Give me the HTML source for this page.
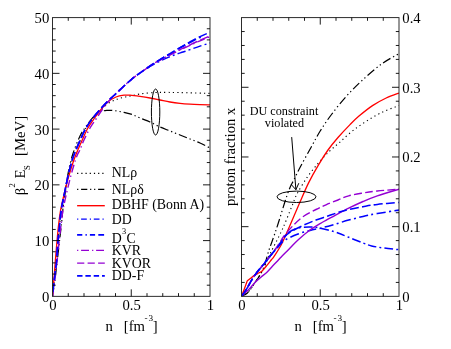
<!DOCTYPE html><html><head><meta charset="utf-8"><style>html,body{margin:0;padding:0;background:#fff;}body{width:451px;height:349px;overflow:hidden;position:relative;font-family:"Liberation Serif",serif;}</style></head><body><svg width="451" height="349" viewBox="0 0 451 349" style="position:absolute;left:0;top:0;will-change:transform" font-family="Liberation Serif, serif" font-size="14.7" fill="#000"><rect width="451" height="349" fill="#fff"/><clipPath id="c1"><rect x="52.50" y="17.60" width="157.50" height="278.75"/></clipPath><clipPath id="c2"><rect x="241.50" y="17.60" width="157.50" height="278.75"/></clipPath><g clip-path="url(#c1)"><path d="M52.50,296.35 C52.60,295.29 52.85,292.39 53.10,290.00 C53.35,287.61 53.63,285.00 54.00,282.00 C54.37,279.00 54.88,275.40 55.30,272.00 C55.72,268.60 56.05,266.77 56.50,261.60 C56.95,256.43 57.45,247.43 58.00,241.00 C58.55,234.57 59.27,228.17 59.80,223.00 C60.33,217.83 60.65,213.83 61.20,210.00 C61.75,206.17 62.38,203.67 63.10,200.00 C63.82,196.33 64.57,192.50 65.50,188.00 C66.43,183.50 67.42,178.17 68.70,173.00 C69.98,167.83 71.35,162.33 73.20,157.00 C75.05,151.67 77.67,145.83 79.80,141.00 C81.93,136.17 83.80,131.83 86.00,128.00 C88.20,124.17 90.67,121.00 93.00,118.00 C95.33,115.00 97.50,112.40 100.00,110.00 C102.50,107.60 105.33,105.33 108.00,103.60 C110.67,101.87 113.33,100.67 116.00,99.60 C118.67,98.53 121.33,97.87 124.00,97.20 C126.67,96.53 129.33,96.13 132.00,95.60 C134.67,95.07 137.00,94.47 140.00,94.00 C143.00,93.53 146.67,93.07 150.00,92.80 C153.33,92.53 155.00,92.43 160.00,92.40 C165.00,92.37 171.67,92.43 180.00,92.60 C188.33,92.77 205.00,93.27 210.00,93.40" fill="none" stroke="#000000" stroke-width="1.10" stroke-dasharray="1.20,3.20"/><path d="M52.50,296.35 C52.65,295.29 53.03,292.39 53.40,290.00 C53.77,287.61 54.07,286.73 54.70,282.00 C55.33,277.27 56.40,268.43 57.20,261.60 C58.00,254.77 58.77,247.43 59.50,241.00 C60.23,234.57 61.05,228.17 61.60,223.00 C62.15,217.83 62.37,213.83 62.80,210.00 C63.23,206.17 63.68,203.67 64.20,200.00 C64.72,196.33 65.18,192.83 65.90,188.00 C66.62,183.17 67.32,176.75 68.50,171.00 C69.68,165.25 71.08,159.33 73.00,153.50 C74.92,147.67 77.83,140.52 80.00,136.00 C82.17,131.48 83.83,129.50 86.00,126.40 C88.17,123.30 90.67,119.80 93.00,117.40 C95.33,115.00 97.67,113.17 100.00,112.00 C102.33,110.83 104.67,110.63 107.00,110.40 C109.33,110.17 111.17,110.27 114.00,110.60 C116.83,110.93 121.00,111.77 124.00,112.40 C127.00,113.03 129.33,113.47 132.00,114.40 C134.67,115.33 137.00,116.73 140.00,118.00 C143.00,119.27 146.67,120.50 150.00,122.00 C153.33,123.50 156.67,125.50 160.00,127.00 C163.33,128.50 166.67,129.67 170.00,131.00 C173.33,132.33 176.67,133.67 180.00,135.00 C183.33,136.33 186.67,137.67 190.00,139.00 C193.33,140.33 196.67,141.50 200.00,143.00 C203.33,144.50 208.33,147.17 210.00,148.00" fill="none" stroke="#000000" stroke-width="1.20" stroke-dasharray="8.60,2.90,1.30,2.90,1.30,2.90"/><path d="M52.50,296.35 C52.58,295.29 52.80,292.39 53.00,290.00 C53.20,287.61 53.32,286.73 53.70,282.00 C54.08,277.27 54.75,268.43 55.30,261.60 C55.85,254.77 56.42,247.43 57.00,241.00 C57.58,234.57 58.20,228.17 58.80,223.00 C59.40,217.83 59.93,213.83 60.60,210.00 C61.27,206.17 61.97,203.67 62.80,200.00 C63.63,196.33 64.45,192.50 65.60,188.00 C66.75,183.50 68.17,178.08 69.70,173.00 C71.23,167.92 72.82,162.75 74.80,157.50 C76.78,152.25 79.47,146.33 81.60,141.50 C83.73,136.67 85.50,132.33 87.60,128.50 C89.70,124.67 92.03,121.58 94.20,118.50 C96.37,115.42 98.27,112.78 100.60,110.00 C102.93,107.22 105.63,103.97 108.20,101.80 C110.77,99.63 113.37,98.10 116.00,97.00 C118.63,95.90 121.67,95.50 124.00,95.20 C126.33,94.90 127.33,95.00 130.00,95.20 C132.67,95.40 136.67,95.93 140.00,96.40 C143.33,96.87 146.67,97.40 150.00,98.00 C153.33,98.60 156.67,99.33 160.00,100.00 C163.33,100.67 166.67,101.43 170.00,102.00 C173.33,102.57 176.67,103.03 180.00,103.40 C183.33,103.77 186.67,104.00 190.00,104.20 C193.33,104.40 196.67,104.50 200.00,104.60 C203.33,104.70 208.33,104.77 210.00,104.80" fill="none" stroke="#ff0000" stroke-width="1.30"/><path d="M147.20,68.00 C148.38,67.33 151.92,65.27 154.30,64.00 C156.68,62.73 159.10,61.53 161.50,60.40 C163.90,59.27 166.32,58.20 168.70,57.20 C171.08,56.20 173.42,55.27 175.80,54.40 C178.18,53.53 180.63,52.80 183.00,52.00 C185.37,51.20 187.17,50.58 190.00,49.60 C192.83,48.62 196.67,47.20 200.00,46.10 C203.33,45.00 208.33,43.52 210.00,43.00" fill="none" stroke="#0000ff" stroke-width="1.45" stroke-dasharray="8.50,3.20,1.90,3.20"/><path d="M52.50,296.35 C52.60,295.29 52.85,292.39 53.10,290.00 C53.35,287.61 53.63,285.00 54.00,282.00 C54.37,279.00 54.88,275.40 55.30,272.00 C55.72,268.60 56.05,266.77 56.50,261.60 C56.95,256.43 57.45,247.43 58.00,241.00 C58.55,234.57 59.27,228.17 59.80,223.00 C60.33,217.83 60.65,213.83 61.20,210.00 C61.75,206.17 62.38,203.67 63.10,200.00 C63.82,196.33 64.57,192.50 65.50,188.00 C66.43,183.50 67.42,178.17 68.70,173.00 C69.98,167.83 71.35,162.33 73.20,157.00 C75.05,151.67 77.67,145.83 79.80,141.00 C81.93,136.17 83.80,131.83 86.00,128.00 C88.20,124.17 90.67,121.07 93.00,118.00 C95.33,114.93 97.50,112.43 100.00,109.60 C102.50,106.77 105.33,103.67 108.00,101.00 C110.67,98.33 113.33,96.10 116.00,93.60 C118.67,91.10 121.50,88.30 124.00,86.00 C126.50,83.70 128.80,81.63 131.00,79.80 C133.20,77.97 135.70,76.13 137.20,75.00 C138.70,73.87 138.33,74.17 140.00,73.00 C141.67,71.83 144.82,69.63 147.20,68.00 C149.58,66.37 151.92,64.75 154.30,63.20 C156.68,61.65 159.10,60.17 161.50,58.70 C163.90,57.23 166.32,55.82 168.70,54.40 C171.08,52.98 173.42,51.57 175.80,50.20 C178.18,48.83 180.63,47.48 183.00,46.20 C185.37,44.92 187.17,43.95 190.00,42.50 C192.83,41.05 196.67,38.93 200.00,37.50 C203.33,36.07 208.33,34.50 210.00,33.90" fill="none" stroke="#0000ff" stroke-width="1.55" stroke-dashoffset="31.8" stroke-dasharray="8.80,3.30,8.80,3.30,2.00,10.10"/><path d="M52.50,296.35 C52.65,295.29 53.07,292.39 53.40,290.00 C53.73,287.61 53.90,286.73 54.50,282.00 C55.10,277.27 56.22,268.43 57.00,261.60 C57.78,254.77 58.48,247.43 59.20,241.00 C59.92,234.57 60.67,228.17 61.30,223.00 C61.93,217.83 62.38,213.83 63.00,210.00 C63.62,206.17 64.20,203.67 65.00,200.00 C65.80,196.33 66.70,192.50 67.80,188.00 C68.90,183.50 70.15,178.17 71.60,173.00 C73.05,167.83 75.10,160.87 76.50,157.00 C77.90,153.13 78.75,152.63 80.00,149.80 C81.25,146.97 82.33,143.63 84.00,140.00 C85.67,136.37 88.00,131.50 90.00,128.00 C92.00,124.50 94.00,122.00 96.00,119.00 C98.00,116.00 100.00,112.83 102.00,110.00 C104.00,107.17 105.67,104.73 108.00,102.00 C110.33,99.27 113.33,96.27 116.00,93.60 C118.67,90.93 121.50,88.30 124.00,86.00 C126.50,83.70 128.80,81.63 131.00,79.80 C133.20,77.97 135.70,76.13 137.20,75.00 C138.70,73.87 138.33,74.17 140.00,73.00 C141.67,71.83 144.82,69.63 147.20,68.00 C149.58,66.37 151.92,64.63 154.30,63.20 C156.68,61.77 159.10,60.67 161.50,59.40 C163.90,58.13 166.32,56.83 168.70,55.60 C171.08,54.37 173.42,53.17 175.80,52.00 C178.18,50.83 180.63,49.72 183.00,48.60 C185.37,47.48 187.17,46.60 190.00,45.30 C192.83,44.00 196.67,42.25 200.00,40.80 C203.33,39.35 208.33,37.30 210.00,36.60" fill="none" stroke="#9400d3" stroke-width="1.40" stroke-dasharray="8.00,3.20,1.30,3.20"/><path d="M52.50,296.35 C52.60,295.29 52.85,292.39 53.10,290.00 C53.35,287.61 53.63,285.00 54.00,282.00 C54.37,279.00 54.88,275.40 55.30,272.00 C55.72,268.60 56.05,266.77 56.50,261.60 C56.95,256.43 57.45,247.43 58.00,241.00 C58.55,234.57 59.27,228.17 59.80,223.00 C60.33,217.83 60.65,213.83 61.20,210.00 C61.75,206.17 62.38,203.67 63.10,200.00 C63.82,196.33 64.57,192.50 65.50,188.00 C66.43,183.50 67.42,178.17 68.70,173.00 C69.98,167.83 71.35,162.33 73.20,157.00 C75.05,151.67 77.67,145.83 79.80,141.00 C81.93,136.17 83.80,131.83 86.00,128.00 C88.20,124.17 90.67,121.07 93.00,118.00 C95.33,114.93 97.50,112.43 100.00,109.60 C102.50,106.77 105.33,103.67 108.00,101.00 C110.67,98.33 113.33,96.10 116.00,93.60 C118.67,91.10 121.50,88.30 124.00,86.00 C126.50,83.70 128.80,81.63 131.00,79.80 C133.20,77.97 135.70,76.13 137.20,75.00 C138.70,73.87 138.33,74.17 140.00,73.00 C141.67,71.83 144.82,69.63 147.20,68.00 C149.58,66.37 151.92,64.67 154.30,63.20 C156.68,61.73 159.10,60.50 161.50,59.20 C163.90,57.90 166.32,56.65 168.70,55.40 C171.08,54.15 173.42,52.90 175.80,51.70 C178.18,50.50 180.63,49.35 183.00,48.20 C185.37,47.05 187.17,46.12 190.00,44.80 C192.83,43.48 196.67,41.77 200.00,40.30 C203.33,38.83 208.33,36.72 210.00,36.00" fill="none" stroke="#9400d3" stroke-width="1.40" stroke-dashoffset="7.6" stroke-dasharray="8.80,3.30"/><path d="M52.50,296.35 C52.60,295.29 52.85,292.39 53.10,290.00 C53.35,287.61 53.63,285.00 54.00,282.00 C54.37,279.00 54.88,275.40 55.30,272.00 C55.72,268.60 56.05,266.77 56.50,261.60 C56.95,256.43 57.45,247.43 58.00,241.00 C58.55,234.57 59.27,228.17 59.80,223.00 C60.33,217.83 60.65,213.83 61.20,210.00 C61.75,206.17 62.38,203.67 63.10,200.00 C63.82,196.33 64.57,192.50 65.50,188.00 C66.43,183.50 67.42,178.17 68.70,173.00 C69.98,167.83 71.35,162.33 73.20,157.00 C75.05,151.67 77.67,145.83 79.80,141.00 C81.93,136.17 83.80,131.83 86.00,128.00 C88.20,124.17 90.67,121.07 93.00,118.00 C95.33,114.93 97.50,112.43 100.00,109.60 C102.50,106.77 105.33,103.67 108.00,101.00 C110.67,98.33 113.33,96.10 116.00,93.60 C118.67,91.10 121.50,88.30 124.00,86.00 C126.50,83.70 128.80,81.63 131.00,79.80 C133.20,77.97 135.70,76.13 137.20,75.00 C138.70,73.87 138.33,74.17 140.00,73.00 C141.67,71.83 144.82,69.63 147.20,68.00 C149.58,66.37 151.92,64.75 154.30,63.20 C156.68,61.65 159.10,60.17 161.50,58.70 C163.90,57.23 166.32,55.83 168.70,54.40 C171.08,52.97 173.42,51.50 175.80,50.10 C178.18,48.70 180.63,47.35 183.00,46.00 C185.37,44.65 187.17,43.57 190.00,42.00 C192.83,40.43 196.67,38.22 200.00,36.60 C203.33,34.98 208.33,33.02 210.00,32.30" fill="none" stroke="#0000ff" stroke-width="1.55" stroke-dashoffset="7.6" stroke-dasharray="8.80,3.30"/></g><g clip-path="url(#c2)"><path d="M241.50,296.20 C242.45,295.63 245.48,294.25 247.20,292.80 C248.92,291.35 250.47,289.25 251.80,287.50 C253.13,285.75 254.07,284.02 255.20,282.30 C256.33,280.58 257.45,279.00 258.60,277.20 C259.75,275.40 260.95,273.60 262.10,271.50 C263.25,269.40 264.35,267.18 265.50,264.60 C266.65,262.02 267.75,258.77 269.00,256.00 C270.25,253.23 270.75,252.50 273.00,248.00 C275.25,243.50 279.33,236.00 282.50,229.00 C285.67,222.00 289.58,211.83 292.00,206.00 C294.42,200.17 294.45,198.82 297.00,194.00 C299.55,189.18 303.72,182.28 307.30,177.10 C310.88,171.92 314.82,167.20 318.50,162.90 C322.18,158.60 325.87,154.73 329.40,151.30 C332.93,147.87 335.97,145.60 339.70,142.30 C343.43,139.00 347.48,134.93 351.80,131.50 C356.12,128.07 360.63,124.87 365.60,121.70 C370.57,118.53 376.03,115.18 381.60,112.50 C387.17,109.82 396.10,106.75 399.00,105.60" fill="none" stroke="#000000" stroke-width="1.10" stroke-dasharray="1.20,3.20"/><path d="M241.50,296.20 C242.45,295.70 245.48,294.65 247.20,293.20 C248.92,291.75 250.47,289.32 251.80,287.50 C253.13,285.68 254.07,284.02 255.20,282.30 C256.33,280.58 257.45,279.08 258.60,277.20 C259.75,275.32 261.05,273.20 262.10,271.00 C263.15,268.80 263.77,267.45 264.90,264.00 C266.03,260.55 267.65,254.22 268.90,250.30 C270.15,246.38 270.88,244.88 272.40,240.50 C273.92,236.12 275.82,230.75 278.00,224.00 C280.18,217.25 283.50,206.10 285.50,200.00 C287.50,193.90 288.62,190.73 290.00,187.40 C291.38,184.07 292.00,183.57 293.80,180.00 C295.60,176.43 297.93,171.42 300.80,166.00 C303.67,160.58 307.77,153.33 311.00,147.50 C314.23,141.67 316.78,136.50 320.20,131.00 C323.62,125.50 327.12,120.32 331.50,114.50 C335.88,108.68 341.33,101.83 346.50,96.10 C351.67,90.37 356.65,85.45 362.50,80.10 C368.35,74.75 375.52,68.42 381.60,64.00 C387.68,59.58 396.10,55.33 399.00,53.60" fill="none" stroke="#000000" stroke-width="1.20" stroke-dasharray="8.60,2.90,1.30,2.90,1.30,2.90"/><path d="M241.50,296.20 C241.98,294.95 243.45,291.23 244.40,288.70 C245.35,286.17 246.73,282.28 247.20,281.00 C247.83,280.48 249.67,278.92 251.00,277.90 C252.33,276.88 253.87,275.75 255.20,274.90 C256.53,274.05 257.85,273.47 259.00,272.80 C260.15,272.13 260.82,272.08 262.10,270.90 C263.38,269.72 265.18,267.52 266.70,265.70 C268.22,263.88 269.97,261.57 271.20,260.00 C272.43,258.43 272.47,258.77 274.10,256.30 C275.73,253.83 278.68,249.58 281.00,245.20 C283.32,240.82 284.83,237.20 288.00,230.00 C291.17,222.80 296.55,209.90 300.00,202.00 C303.45,194.10 305.62,188.80 308.70,182.60 C311.78,176.40 315.28,170.23 318.50,164.80 C321.72,159.37 324.75,154.55 328.00,150.00 C331.25,145.45 334.33,141.73 338.00,137.50 C341.67,133.27 346.55,128.13 350.00,124.60 C353.45,121.07 354.95,119.47 358.70,116.30 C362.45,113.13 367.92,108.65 372.50,105.60 C377.08,102.55 381.78,100.10 386.20,98.00 C390.62,95.90 396.87,93.83 399.00,93.00" fill="none" stroke="#ff0000" stroke-width="1.30"/><path d="M241.50,296.20 C242.02,295.50 243.62,293.43 244.60,292.00 C245.58,290.57 246.13,289.73 247.40,287.60 C248.67,285.47 250.60,281.77 252.20,279.20 C253.80,276.63 255.37,274.35 257.00,272.20 C258.63,270.05 260.33,268.33 262.00,266.30 C263.67,264.27 265.20,262.25 267.00,260.00 C268.80,257.75 270.75,255.47 272.80,252.80 C274.85,250.13 276.77,247.30 279.30,244.00 C281.83,240.70 284.88,235.67 288.00,233.00 C291.12,230.33 294.33,229.00 298.00,228.00 C301.67,227.00 306.67,227.05 310.00,227.00 C313.33,226.95 315.00,227.20 318.00,227.70 C321.00,228.20 324.67,229.12 328.00,230.00 C331.33,230.88 334.55,231.78 338.00,233.00 C341.45,234.22 344.53,235.63 348.70,237.30 C352.87,238.97 359.18,241.57 363.00,243.00 C366.82,244.43 368.27,245.08 371.60,245.90 C374.93,246.72 378.43,247.27 383.00,247.90 C387.57,248.53 396.33,249.40 399.00,249.70" fill="none" stroke="#0000ff" stroke-width="1.50" stroke-dashoffset="5" stroke-dasharray="8.50,3.20,1.90,3.20"/><path d="M241.50,296.20 C242.02,295.50 243.62,293.43 244.60,292.00 C245.58,290.57 246.13,289.73 247.40,287.60 C248.67,285.47 250.60,281.77 252.20,279.20 C253.80,276.63 255.37,274.35 257.00,272.20 C258.63,270.05 260.33,268.33 262.00,266.30 C263.67,264.27 265.20,262.25 267.00,260.00 C268.80,257.75 270.75,255.27 272.80,252.80 C274.85,250.33 277.10,247.42 279.30,245.20 C281.50,242.98 282.88,241.37 286.00,239.50 C289.12,237.63 294.00,235.50 298.00,234.00 C302.00,232.50 306.00,231.53 310.00,230.50 C314.00,229.47 317.95,228.82 322.00,227.80 C326.05,226.78 329.85,225.68 334.30,224.40 C338.75,223.12 343.92,221.43 348.70,220.10 C353.48,218.77 358.23,217.50 363.00,216.40 C367.77,215.30 371.30,214.55 377.30,213.50 C383.30,212.45 395.38,210.67 399.00,210.10" fill="none" stroke="#0000ff" stroke-width="1.55" stroke-dashoffset="12" stroke-dasharray="9.10,3.40,2.00,3.40"/><path d="M241.50,296.20 C242.17,295.58 244.17,293.75 245.50,292.50 C246.83,291.25 247.88,290.42 249.50,288.70 C251.12,286.98 253.30,284.12 255.20,282.20 C257.10,280.28 258.98,278.83 260.90,277.20 C262.82,275.57 264.78,274.22 266.70,272.40 C268.62,270.58 270.52,268.30 272.40,266.30 C274.28,264.30 276.57,261.92 278.00,260.40 C279.43,258.88 279.07,259.17 281.00,257.20 C282.93,255.23 286.77,251.47 289.60,248.60 C292.43,245.73 294.60,243.10 298.00,240.00 C301.40,236.90 306.00,232.92 310.00,230.00 C314.00,227.08 317.95,224.87 322.00,222.50 C326.05,220.13 329.85,218.18 334.30,215.80 C338.75,213.42 343.92,210.58 348.70,208.20 C353.48,205.82 358.23,203.57 363.00,201.50 C367.77,199.43 371.30,197.85 377.30,195.80 C383.30,193.75 395.38,190.30 399.00,189.20" fill="none" stroke="#9400d3" stroke-width="1.40"/><path d="M241.50,296.20 C242.02,295.50 243.62,293.43 244.60,292.00 C245.58,290.57 246.13,289.73 247.40,287.60 C248.67,285.47 250.60,281.77 252.20,279.20 C253.80,276.63 255.37,274.35 257.00,272.20 C258.63,270.05 260.33,268.33 262.00,266.30 C263.67,264.27 265.20,262.25 267.00,260.00 C268.80,257.75 270.75,255.55 272.80,252.80 C274.85,250.05 277.43,246.30 279.30,243.50 C281.17,240.70 281.55,239.15 284.00,236.00 C286.45,232.85 290.67,227.93 294.00,224.60 C297.33,221.27 300.33,218.52 304.00,216.00 C307.67,213.48 312.33,211.37 316.00,209.50 C319.67,207.63 322.33,206.38 326.00,204.80 C329.67,203.22 334.22,201.50 338.00,200.00 C341.78,198.50 344.53,196.97 348.70,195.80 C352.87,194.63 358.23,193.80 363.00,193.00 C367.77,192.20 371.30,191.63 377.30,191.00 C383.30,190.37 395.38,189.50 399.00,189.20" fill="none" stroke="#9400d3" stroke-width="1.40" stroke-dasharray="8.00,3.20"/><path d="M241.50,296.20 C242.02,295.50 243.62,293.43 244.60,292.00 C245.58,290.57 246.13,289.73 247.40,287.60 C248.67,285.47 250.60,281.77 252.20,279.20 C253.80,276.63 255.37,274.35 257.00,272.20 C258.63,270.05 260.33,268.33 262.00,266.30 C263.67,264.27 265.20,262.25 267.00,260.00 C268.80,257.75 270.75,255.27 272.80,252.80 C274.85,250.33 277.27,247.92 279.30,245.20 C281.33,242.48 282.88,238.87 285.00,236.50 C287.12,234.13 288.83,232.92 292.00,231.00 C295.17,229.08 300.00,226.83 304.00,225.00 C308.00,223.17 312.00,221.50 316.00,220.00 C320.00,218.50 324.33,217.25 328.00,216.00 C331.67,214.75 334.55,213.58 338.00,212.50 C341.45,211.42 344.53,210.47 348.70,209.50 C352.87,208.53 358.23,207.55 363.00,206.70 C367.77,205.85 371.30,205.12 377.30,204.40 C383.30,203.68 395.38,202.73 399.00,202.40" fill="none" stroke="#0000ff" stroke-width="1.55" stroke-dasharray="8.80,3.30"/></g><rect x="52.50" y="17.60" width="157.50" height="278.75" fill="none" stroke="#222" stroke-width="0.95"/><path d="M68.25,296.35v-3.20M68.25,17.60v3.20" stroke="#000" stroke-width="0.9"/><path d="M84.00,296.35v-3.20M84.00,17.60v3.20" stroke="#000" stroke-width="0.9"/><path d="M99.75,296.35v-3.20M99.75,17.60v3.20" stroke="#000" stroke-width="0.9"/><path d="M115.50,296.35v-3.20M115.50,17.60v3.20" stroke="#000" stroke-width="0.9"/><path d="M131.25,296.35v-7.00M131.25,17.60v7.00" stroke="#000" stroke-width="0.9"/><path d="M147.00,296.35v-3.20M147.00,17.60v3.20" stroke="#000" stroke-width="0.9"/><path d="M162.75,296.35v-3.20M162.75,17.60v3.20" stroke="#000" stroke-width="0.9"/><path d="M178.50,296.35v-3.20M178.50,17.60v3.20" stroke="#000" stroke-width="0.9"/><path d="M194.25,296.35v-3.20M194.25,17.60v3.20" stroke="#000" stroke-width="0.9"/><path d="M52.50,240.60h7.00M210.00,240.60h-7.00" stroke="#000" stroke-width="0.9"/><path d="M52.50,184.85h7.00M210.00,184.85h-7.00" stroke="#000" stroke-width="0.9"/><path d="M52.50,129.10h7.00M210.00,129.10h-7.00" stroke="#000" stroke-width="0.9"/><path d="M52.50,73.35h7.00M210.00,73.35h-7.00" stroke="#000" stroke-width="0.9"/><path d="M52.50,285.20h3.20M210.00,285.20h-3.20" stroke="#000" stroke-width="0.9"/><path d="M52.50,274.05h3.20M210.00,274.05h-3.20" stroke="#000" stroke-width="0.9"/><path d="M52.50,262.90h3.20M210.00,262.90h-3.20" stroke="#000" stroke-width="0.9"/><path d="M52.50,251.75h3.20M210.00,251.75h-3.20" stroke="#000" stroke-width="0.9"/><path d="M52.50,229.45h3.20M210.00,229.45h-3.20" stroke="#000" stroke-width="0.9"/><path d="M52.50,218.30h3.20M210.00,218.30h-3.20" stroke="#000" stroke-width="0.9"/><path d="M52.50,207.15h3.20M210.00,207.15h-3.20" stroke="#000" stroke-width="0.9"/><path d="M52.50,196.00h3.20M210.00,196.00h-3.20" stroke="#000" stroke-width="0.9"/><path d="M52.50,173.70h3.20M210.00,173.70h-3.20" stroke="#000" stroke-width="0.9"/><path d="M52.50,162.55h3.20M210.00,162.55h-3.20" stroke="#000" stroke-width="0.9"/><path d="M52.50,151.40h3.20M210.00,151.40h-3.20" stroke="#000" stroke-width="0.9"/><path d="M52.50,140.25h3.20M210.00,140.25h-3.20" stroke="#000" stroke-width="0.9"/><path d="M52.50,117.95h3.20M210.00,117.95h-3.20" stroke="#000" stroke-width="0.9"/><path d="M52.50,106.80h3.20M210.00,106.80h-3.20" stroke="#000" stroke-width="0.9"/><path d="M52.50,95.65h3.20M210.00,95.65h-3.20" stroke="#000" stroke-width="0.9"/><path d="M52.50,84.50h3.20M210.00,84.50h-3.20" stroke="#000" stroke-width="0.9"/><path d="M52.50,62.20h3.20M210.00,62.20h-3.20" stroke="#000" stroke-width="0.9"/><path d="M52.50,51.05h3.20M210.00,51.05h-3.20" stroke="#000" stroke-width="0.9"/><path d="M52.50,39.90h3.20M210.00,39.90h-3.20" stroke="#000" stroke-width="0.9"/><path d="M52.50,28.75h3.20M210.00,28.75h-3.20" stroke="#000" stroke-width="0.9"/><rect x="241.50" y="17.60" width="157.50" height="278.75" fill="none" stroke="#222" stroke-width="0.95"/><path d="M257.25,296.35v-3.20M257.25,17.60v3.20" stroke="#000" stroke-width="0.9"/><path d="M273.00,296.35v-3.20M273.00,17.60v3.20" stroke="#000" stroke-width="0.9"/><path d="M288.75,296.35v-3.20M288.75,17.60v3.20" stroke="#000" stroke-width="0.9"/><path d="M304.50,296.35v-3.20M304.50,17.60v3.20" stroke="#000" stroke-width="0.9"/><path d="M320.25,296.35v-7.00M320.25,17.60v7.00" stroke="#000" stroke-width="0.9"/><path d="M336.00,296.35v-3.20M336.00,17.60v3.20" stroke="#000" stroke-width="0.9"/><path d="M351.75,296.35v-3.20M351.75,17.60v3.20" stroke="#000" stroke-width="0.9"/><path d="M367.50,296.35v-3.20M367.50,17.60v3.20" stroke="#000" stroke-width="0.9"/><path d="M383.25,296.35v-3.20M383.25,17.60v3.20" stroke="#000" stroke-width="0.9"/><path d="M241.50,226.66h7.00M399.00,226.66h-7.00" stroke="#000" stroke-width="0.9"/><path d="M241.50,156.98h7.00M399.00,156.98h-7.00" stroke="#000" stroke-width="0.9"/><path d="M241.50,87.29h7.00M399.00,87.29h-7.00" stroke="#000" stroke-width="0.9"/><path d="M241.50,282.41h3.20M399.00,282.41h-3.20" stroke="#000" stroke-width="0.9"/><path d="M241.50,268.48h3.20M399.00,268.48h-3.20" stroke="#000" stroke-width="0.9"/><path d="M241.50,254.54h3.20M399.00,254.54h-3.20" stroke="#000" stroke-width="0.9"/><path d="M241.50,240.60h3.20M399.00,240.60h-3.20" stroke="#000" stroke-width="0.9"/><path d="M241.50,212.73h3.20M399.00,212.73h-3.20" stroke="#000" stroke-width="0.9"/><path d="M241.50,198.79h3.20M399.00,198.79h-3.20" stroke="#000" stroke-width="0.9"/><path d="M241.50,184.85h3.20M399.00,184.85h-3.20" stroke="#000" stroke-width="0.9"/><path d="M241.50,170.91h3.20M399.00,170.91h-3.20" stroke="#000" stroke-width="0.9"/><path d="M241.50,143.04h3.20M399.00,143.04h-3.20" stroke="#000" stroke-width="0.9"/><path d="M241.50,129.10h3.20M399.00,129.10h-3.20" stroke="#000" stroke-width="0.9"/><path d="M241.50,115.16h3.20M399.00,115.16h-3.20" stroke="#000" stroke-width="0.9"/><path d="M241.50,101.23h3.20M399.00,101.23h-3.20" stroke="#000" stroke-width="0.9"/><path d="M241.50,73.35h3.20M399.00,73.35h-3.20" stroke="#000" stroke-width="0.9"/><path d="M241.50,59.41h3.20M399.00,59.41h-3.20" stroke="#000" stroke-width="0.9"/><path d="M241.50,45.48h3.20M399.00,45.48h-3.20" stroke="#000" stroke-width="0.9"/><path d="M241.50,31.54h3.20M399.00,31.54h-3.20" stroke="#000" stroke-width="0.9"/><text x="49.3" y="301.75" text-anchor="end">0</text><text x="49.3" y="246.00" text-anchor="end">10</text><text x="49.3" y="190.25" text-anchor="end">20</text><text x="49.3" y="134.50" text-anchor="end">30</text><text x="49.3" y="78.75" text-anchor="end">40</text><text x="49.3" y="23.00" text-anchor="end">50</text><text x="52.90" y="310.3" text-anchor="middle">0</text><text x="131.65" y="310.3" text-anchor="middle">0.5</text><text x="210.40" y="310.3" text-anchor="middle">1</text><text x="241.90" y="310.3" text-anchor="middle">0</text><text x="320.65" y="310.3" text-anchor="middle">0.5</text><text x="399.40" y="310.3" text-anchor="middle">1</text><text x="402.3" y="301.65">0</text><text x="402.3" y="231.96">0.1</text><text x="402.3" y="162.28">0.2</text><text x="402.3" y="92.59">0.3</text><text x="402.3" y="22.90">0.4</text><text x="131.50" y="330.6" text-anchor="middle" xml:space="preserve">n   [fm<tspan font-size="9.2" dy="-9.2" dx="-0.6" letter-spacing="1.0">-3</tspan><tspan dy="9.2" dx="-1.37">]</tspan></text><text x="320.50" y="330.6" text-anchor="middle" xml:space="preserve">n   [fm<tspan font-size="9.2" dy="-9.2" dx="-0.6" letter-spacing="1.0">-3</tspan><tspan dy="9.2" dx="-1.37">]</tspan></text><text transform="translate(24.7,195.3) rotate(-90)" xml:space="preserve"><tspan x="0">β</tspan><tspan x="7.8" dy="-9.7" font-size="8.7">2</tspan><tspan x="16.9" dy="9.7">E</tspan><tspan x="25.2" dy="5.6" font-size="8.7">S</tspan><tspan x="39.4" dy="-5.6">[MeV]</tspan></text><text transform="translate(235.1,206) rotate(-90)" textLength="98.3" lengthAdjust="spacing">proton fraction x</text><path d="M77.1,173.30H104.8" stroke="#000000" stroke-width="1.15" fill="none" stroke-dasharray="1.20,3.00"/><text x="111.8" y="177.30" font-size="13.85">NLρ</text><path d="M77.1,189.30H104.8" stroke="#000000" stroke-width="1.25" fill="none" stroke-dasharray="1.20,2.80,6.20,2.80,1.20,2.80"/><text x="111.8" y="194.10" font-size="13.85">NLρδ</text><path d="M77.1,205.70H104.8" stroke="#ff0000" stroke-width="1.35" fill="none"/><text x="111.8" y="209.30" font-size="13.85">DBHF (Bonn A)</text><path d="M77.1,219.20H104.8" stroke="#0000ff" stroke-width="1.25" fill="none" stroke-dasharray="1.20,2.80,5.70,3.00"/><text x="111.8" y="224.00" font-size="13.85">DD</text><path d="M77.1,234.90H104.8" stroke="#0000ff" stroke-width="1.60" fill="none" stroke-dasharray="5.20,3.20,1.30,3.10,5.20,3.20,5.80,30.00"/><text x="111.8" y="243.30" font-size="13.85">D<tspan font-size="8.3" dy="-9.1" dx="0.3">3</tspan><tspan dy="9.1" dx="0.3">C</tspan></text><path d="M77.1,250.30H104.8" stroke="#9400d3" stroke-width="1.25" fill="none" stroke-dasharray="1.20,2.80,7.90,3.10"/><text x="111.8" y="255.45" font-size="13.85">KVR</text><path d="M77.1,263.10H104.8" stroke="#9400d3" stroke-width="1.40" fill="none" stroke-dasharray="7.20,3.30"/><text x="111.8" y="267.70" font-size="13.85">KVOR</text><path d="M77.1,275.90H104.8" stroke="#0000ff" stroke-width="1.60" fill="none" stroke-dasharray="5.40,2.90"/><text x="111.8" y="280.40" font-size="13.85">DD-F</text><ellipse cx="155.6" cy="112" rx="4.2" ry="23" fill="none" stroke="#000" stroke-width="1"/><ellipse cx="296.5" cy="196.8" rx="19.5" ry="5.7" fill="none" stroke="#000" stroke-width="1"/><path d="M291.7,137.1L295.9,189.7M291.3,184.6L295.9,189.7L298.8,183.2" fill="none" stroke="#000" stroke-width="1"/><text x="284" y="114.9" font-size="12.2" text-anchor="middle">DU constraint</text><text x="284.5" y="126.6" font-size="12.2" text-anchor="middle">violated</text></svg></body></html>
